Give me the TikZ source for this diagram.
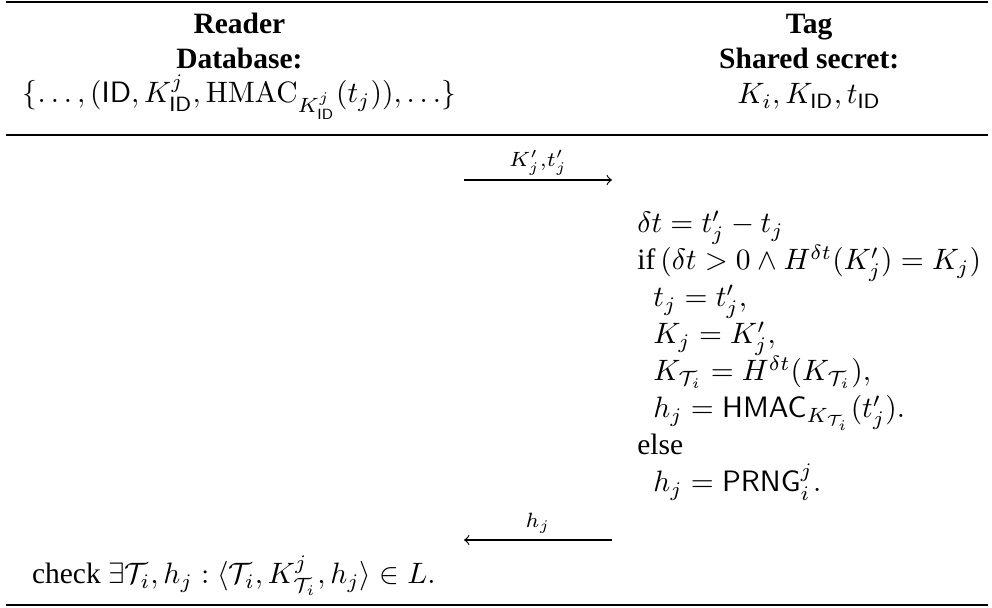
\documentclass[tikz,border=0pt]{standalone}
\usepackage{amsmath,amssymb}
\usepackage[no-math]{fontspec}
\setmainfont{Liberation Serif}
\usetikzlibrary{calc}
\tikzset{
  txt/.style={inner sep=0pt, outer sep=0pt},
  heavyrule/.style={line width=0.8pt},
  lightrule/.style={line width=0.5pt},
  msg/.style={line width=0.4pt, ->},
  lbl/.style={inner sep=0pt, anchor=base}
}
\begin{document}
\begin{tikzpicture}[x=0.339pt,y=-0.339pt]
\useasboundingbox (0,0) rectangle (992,608);
% rules
\coordinate (tl) at (6,2);   \coordinate (tr) at (988,2);
\coordinate (ml) at (6,135); \coordinate (mr) at (988,135);
\coordinate (bl) at (6,605); \coordinate (br) at (988,605);
\draw[heavyrule] (tl) -- (tr);
\draw[lightrule] (ml) -- (mr);
\draw[heavyrule] (bl) -- (br);
% left header
\node[txt, anchor=base west] (set) at (23,103)
  {$\{\ldots,(\mathsf{ID},K^j_{\mathsf{ID}},\mathrm{HMAC}_{K^j_{\mathsf{ID}}}(t_j)),\ldots\}$};
\node[txt, anchor=base] (reader) at (set.base |- 0,34) {\textbf{Reader}};
\node[txt, anchor=base] (db) at (set.base |- 0,69) {\textbf{Database:}};
% right block
\node[txt, anchor=base east] (r2) at (981,270)
  {if\,$(\delta t > 0 \wedge H^{\delta t}(K'_j) = K_j)$};
\node[txt, anchor=base west] (r1) at (r2.base west |- 0,233) {$\delta t = t'_j - t_j$};
\coordinate (ind) at ($(r2.base west)+(16,0)$);
\node[txt, anchor=base west] (r3) at (ind |- 0,307) {$t_j = t'_j,$};
\node[txt, anchor=base west] (r4) at (ind |- 0,344) {$K_j = K'_j,$};
\node[txt, anchor=base west] (r5) at (ind |- 0,381) {$K_{\mathcal{T}_i} = H^{\delta t}(K_{\mathcal{T}_i}),$};
\node[txt, anchor=base west] (r6) at (ind |- 0,418) {$h_j = \mathsf{HMAC}_{K_{\mathcal{T}_i}}(t'_j).$};
\node[txt, anchor=base west] (r7) at (r2.base west |- 0,455) {else};
\node[txt, anchor=base west] (r8) at (ind |- 0,492) {$h_j = \mathsf{PRNG}^j_i.$};
% right header
\node[txt, anchor=base] (tag) at (r2.base |- 0,34) {\textbf{Tag}};
\node[txt, anchor=base] (shared) at (r2.base |- 0,69) {\textbf{Shared secret:}};
\node[txt, anchor=base] (secret) at (r2.base |- 0,104) {$K_i, K_{\mathsf{ID}}, t_{\mathsf{ID}}$};
% messages
\coordinate (mid) at (538,0);
\coordinate (a1s) at ($(mid |- 0,180)+(-74,0)$);
\coordinate (a1e) at ($(mid |- 0,180)+(74,0)$);
\coordinate (a2s) at ($(mid |- 0,540)+(74,0)$);
\coordinate (a2e) at ($(mid |- 0,540)+(-74,0)$);
\draw[msg] (a1s) -- (a1e);
\node[lbl] (l1) at (mid |- 0,167) {$\scriptstyle K'_j,t'_j$};
\draw[msg] (a2s) -- (a2e);
\node[lbl] (l2) at (mid |- 0,528) {$\scriptstyle h_j$};
% check
\node[txt, anchor=base west] (check) at (32,584)
  {check $\exists \mathcal{T}_i, h_j : \langle \mathcal{T}_i, K^j_{\mathcal{T}_i}, h_j\rangle \in L.$};
\end{tikzpicture}
\end{document}
